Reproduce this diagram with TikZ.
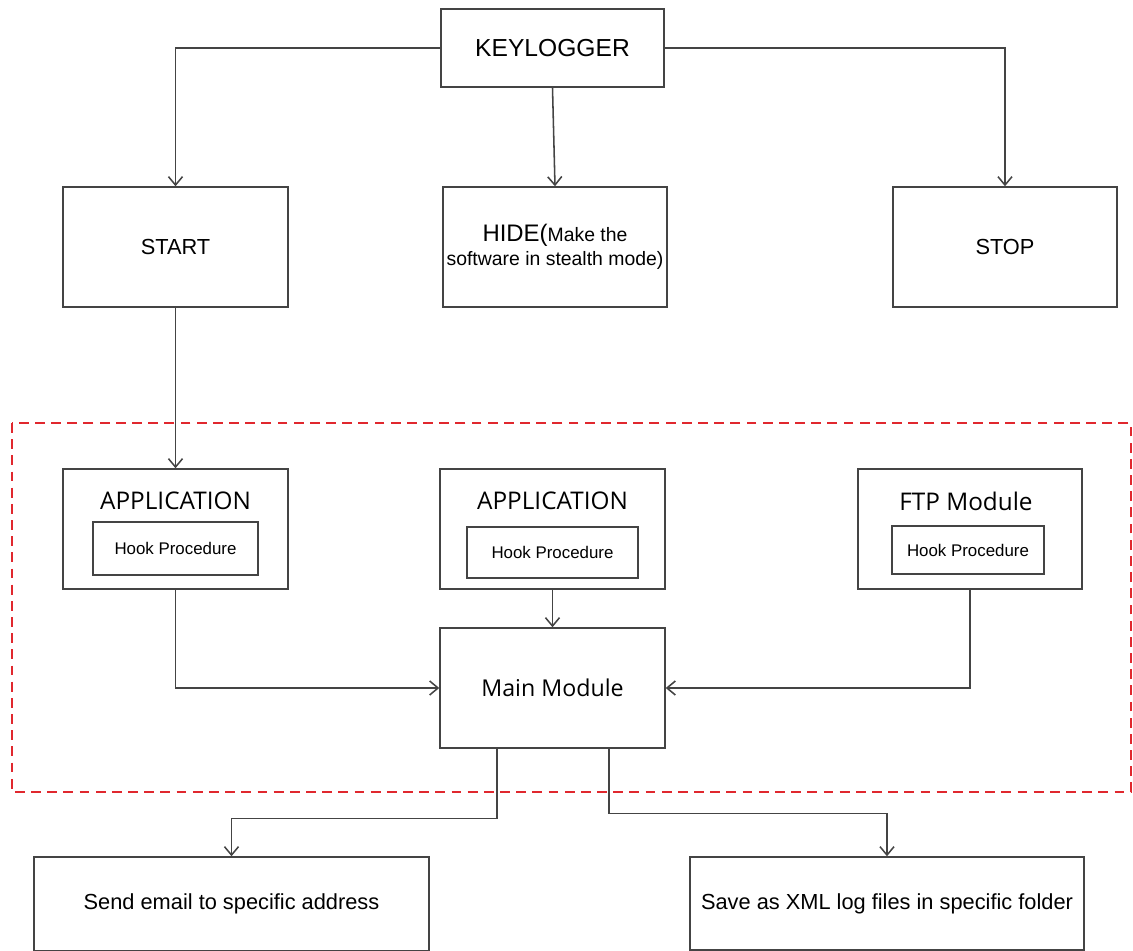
\documentclass[tikz,border=0pt]{standalone}
\usepackage{fontspec}
\setmainfont{Liberation Sans}
\newfontfamily\opensans{Open Sans}
\usepackage{xcolor}
\usepackage{tikz}
\usetikzlibrary{arrows.meta}
\definecolor{edge}{HTML}{444444}
\definecolor{dashred}{HTML}{E0282E}

\tikzset{
  box/.style={draw=edge, line width=1pt, inner sep=0pt, align=center, font=\fontsize{15.5}{18}\selectfont},
  hookbox/.style={box, minimum height=1.3cm, font=\fontsize{12}{14}\selectfont},
  title/.style={inner sep=0pt, font=\opensans\fontsize{17.3}{20}\selectfont},
  link/.style={->, edge, line width=1.1pt},
}

\begin{document}
\begin{tikzpicture}[x=0.025cm, y=-0.025cm, >={Straight Barb[length=6pt,width=10pt]}]
    \useasboundingbox (0,0) rectangle (1133,951);
    \draw[dashred, line width=1.4pt, dash pattern=on 7pt off 4.5pt] (12,423) rectangle (1131,792);

    \node[box, minimum width=5.575cm, minimum height=1.95cm, font=\fontsize{17.5}{20}\selectfont] (key) at (552.5,48) {KEYLOGGER};
    \node[box, minimum width=5.625cm, minimum height=3cm] (start) at (175.5,247) {START};
    \node[box, minimum width=5.6cm, minimum height=3cm, font=\fontsize{13.8}{17}\selectfont] (hide) at (555,247) {{\fontsize{17}{17}\selectfont HIDE(}Make the\\software in stealth mode)};
    \node[box, minimum width=5.6cm, minimum height=3cm] (stop) at (1005,247) {STOP};

    \node[box, minimum width=5.625cm, minimum height=3cm] (app1) at (175.5,529) {};
    \node[title] (app1t) at (175.5,501) {APPLICATION};
    \node[hookbox, minimum width=4.125cm, minimum height=1.325cm] (hook1) at (175.5,548.5) {Hook Procedure};

    \node[box, minimum width=5.625cm, minimum height=3cm] (app2) at (552.5,529) {};
    \node[title] (app2t) at (552.5,501) {APPLICATION};
    \node[hookbox, minimum width=4.275cm, minimum height=1.275cm] (hook2) at (552.5,552.5) {Hook Procedure};

    \node[box, minimum width=5.6cm, minimum height=3cm] (ftp) at (970,529) {};
    \node[title] (ftpt) at (966,501) {FTP Module};
    \node[hookbox, minimum width=3.8cm, minimum height=1.2cm] (hook3) at (968,550) {Hook Procedure};

    \node[box, minimum width=5.625cm, minimum height=3cm, font=\opensans\fontsize{16.5}{19}\selectfont] (main) at (552.5,688) {Main Module};

    \node[box, minimum width=9.875cm, minimum height=2.35cm] (mail) at (231.5,904) {Send email to specific address};
    \node[box, minimum width=9.85cm, minimum height=2.325cm] (save) at (887,903.5) {Save as XML log files in specific folder};

    \draw[link] (key.west) -| (start.north);
    \draw[link] (key.south) -- (hide.north);
    \draw[link] (key.east) -| (stop.north);
    \draw[link] (start) -- (app1);
    \draw[link] (app1.south) |- (main.west);
    \draw[link] (app2) -- (main);
    \draw[link] (ftp.south) |- (main.east);
    \draw[link] ([xshift=-1.39cm]main.south) -- ++(0,70) -| (mail.north);
    \draw[link] ([xshift=1.41cm]main.south) -- ++(0,65) -| (save.north);
  \end{tikzpicture}
\end{document}
